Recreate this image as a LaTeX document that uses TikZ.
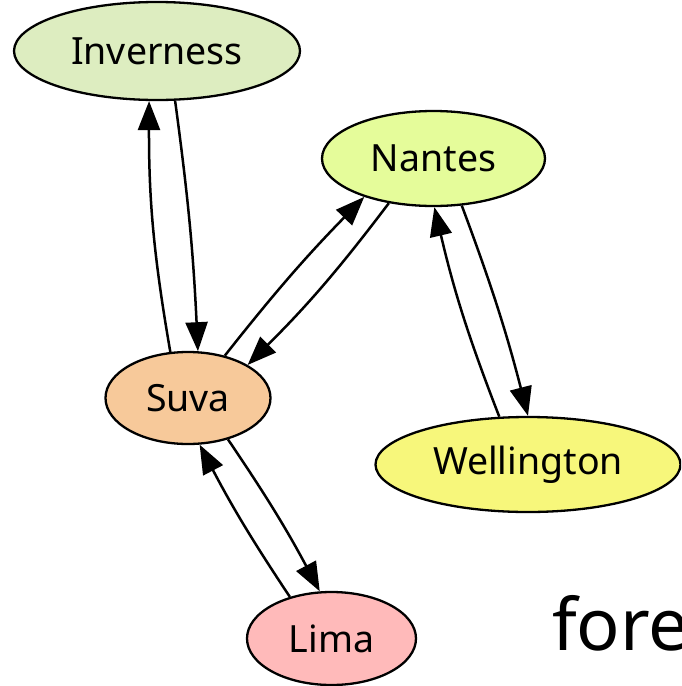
\documentclass[tikz,border=0pt]{standalone}
\usepackage{fontspec}
\setmainfont{Noto Sans}
\usetikzlibrary{shapes.geometric,arrows.meta}
\definecolor{invfill}{HTML}{DDEDC0}
\definecolor{nanfill}{HTML}{E5FC9A}
\definecolor{welfill}{HTML}{F7F77B}
\definecolor{suvfill}{HTML}{F7C99A}
\definecolor{limfill}{HTML}{FFBABA}
\tikzset{
  city/.style={ellipse, draw=black, line width=2.3pt, inner sep=0pt,
    font=\fontsize{37.5}{42}\selectfont},
  link/.style={line width=2.5pt, -{Triangle[length=29pt,width=22pt]}},
}
\begin{document}
\begin{tikzpicture}[x=1pt,y=-1pt]
\useasboundingbox (0,0) rectangle (681,686);
\clip (0,0) rectangle (681,686);

\node[city, fill=invfill, minimum width=286pt, minimum height=98pt] (inv) at (157,51) {Inverness};
\node[city, fill=nanfill, minimum width=223pt, minimum height=95pt] (nan) at (433.5,158.5) {Nantes};
\node[city, fill=welfill, minimum width=305pt, minimum height=95pt] (wel) at (528,464.5) {Wellington};
\node[city, fill=suvfill, minimum width=165pt, minimum height=92pt] (suv) at (188,398) {Suva};
\node[city, fill=limfill, minimum width=169pt, minimum height=93pt] (lim) at (331.5,638.5) {Lima};

\node[anchor=base west, inner sep=0pt, font=\fontsize{72}{80}\selectfont] (foot) at (552,650) {fore};

\draw[link] (suv.111) to[bend left=5] (inv.-99);
\draw[link] (inv.-70) to[bend left=2.5] (suv.78);
\draw[link] (suv.49) to[bend left=3] (nan.-151);
\draw[link] (nan.-135) to[bend left=4] (suv.29);
\draw[link] (wel.121) to[bend left=4] (nan.-89);
\draw[link] (nan.-59) to[bend left=3] (wel.90);
\draw[link] (lim.135) to[bend left=3] (suv.-76);
\draw[link] (suv.-46) to[bend left=3] (lim.104);
\end{tikzpicture}
\end{document}
